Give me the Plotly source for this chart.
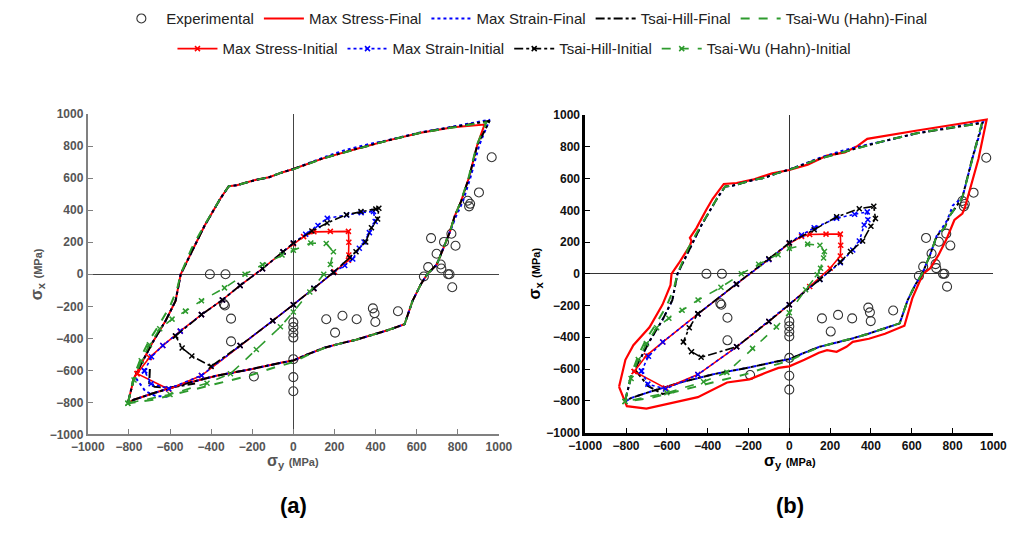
import plotly.graph_objects as go

# ---------------- experimental failure points (MPa) ----------------
exp_sy = [-406, -330, -338, -333, -303, -303, -192, 0, 0, 0, 0, 0, 0, 0,
          160, 203, 239, 308, 387, 395, 399, 509, 635, 656, 670, 697, 717, 720,
          733, 753, 760, 769, 773, 789, 848, 855, 860, 903, 965]
exp_sx = [0, 0, -186, -195, -277, -419, -638, -300, -330, -365, -395, -530, -642, -730,
          -281, -364, -259, -281, -213, -243, -298, -231, -14, 45, 226, 128, 61, 36,
          202, 0, 0, 253, -81, 178, 459, 424, 440, 511, 731]

# ---------------- panel (a): final failure envelopes ----------------
a_ms_f_x = [-805, -776, -745, -682, -620, -573, -548, -480, -432, -354, -314, -275, -181, -118, -55, 0,
            148, 305, 462, 619, 777, 930, 895, 855, 816, 785, 761, 730, 698, 651, 619, 580, 541,
            462, 384, 305, 226, 148, 69, 0, -55, -200, -369, -525, -682, -776, -805]
a_ms_f_y = [-805, -652, -571, -419, -287, -166, 0, 182, 303, 475, 550, 556, 590, 606, 636, 657,
            725, 782, 836, 884, 918, 935, 808, 606, 455, 364, 263, 162, 61, 0, -65, -166, -312,
            -348, -379, -409, -433, -460, -500, -538, -551, -591, -632, -682, -743, -783, -805]

a_mst_f_x = [-805, -776, -745, -682, -620, -573, -548, -480, -432, -354, -314, -275, -181, -118, -55, 0,
             148, 250, 352, 462, 619, 777, 955, 905, 862, 825, 792, 761, 730, 698, 651, 619, 580, 541,
             462, 384, 305, 226, 148, 69, 0, -55, -200, -369, -525, -682, -776, -805,
             None, -765, -720, -670, -600]
a_mst_f_y = [-805, -652, -571, -419, -287, -166, 0, 182, 303, 475, 550, 556, 590, 606, 636, 657,
             730, 775, 808, 838, 886, 922, 965, 808, 606, 455, 364, 263, 162, 61, 0, -65, -166, -312,
             -348, -379, -409, -433, -460, -500, -538, -551, -591, -632, -682, -743, -783, -805,
             None, -650, -730, -760, -765]

a_th_f_x = [-805, -776, -745, -682, -620, -573, -548, -480, -432, -354, -314, -275, -181, -118, -55, 0,
            148, 305, 462, 619, 777, 955, 895, 855, 816, 785, 761, 730, 698, 651, 619, 580, 541,
            462, 384, 305, 226, 148, 69, 0, -55, -200, -369, -525, -682, -776, -805,
            None, -698, -701, -675, -604, -478]
a_th_f_y = [-805, -652, -571, -419, -287, -166, 0, 182, 303, 475, 550, 556, 590, 606, 636, 657,
            725, 782, 836, 884, 918, 958, 808, 606, 455, 364, 263, 162, 61, 0, -65, -166, -312,
            -348, -379, -409, -433, -460, -500, -538, -551, -591, -632, -682, -743, -783, -805,
            None, -591, -682, -702, -708, -682]

a_tw_f_x = [-805, -785, -765, -735, -700, -655, -600, -565, -548, -495, -440, -354, -314, -275, -181,
            -118, -55, 0, 148, 305, 462, 619, 777, 940, 893, 853, 815, 785, 761, 730, 698, 651, 619,
            580, 541, 462, 384, 305, 226, 148, 69, 0, -100, -212, -369, -525, -682, -805]
a_tw_f_y = [-805, -690, -600, -500, -410, -320, -200, -90, 0, 162, 290, 475, 550, 556, 590,
            606, 636, 655, 725, 782, 836, 884, 918, 950, 808, 606, 455, 364, 263, 162, 61, 0, -65,
            -166, -312, -348, -379, -409, -433, -462, -505, -548, -585, -632, -682, -733, -783, -805]

# ---------------- panel (a): initial failure envelopes ----------------
a_ms_i_x = [-760, -700, -635, -550, -447, -345, -259, -150, -50, 0, 50, 100, 180, 268, 270, 270, 268,
            200, 100, 0, -100, -259, -447, -606, -760]
a_ms_i_y = [-620, -520, -445, -355, -252, -160, -70, 35, 140, 190, 235, 265, 268, 268, 200, 120, 88,
            15, -90, -190, -290, -445, -632, -718, -620]

a_mst_i_x = [-724, -690, -635, -550, -447, -345, -259, -150, -50, 0, 60, 120, 165, 260, 330, 390, 398,
             370, 344, 321, 289, 250, 195, 100, 0, -100, -259, -447, -606, -692, -724]
a_mst_i_y = [-603, -515, -445, -355, -252, -160, -70, 35, 140, 195, 250, 305, 350, 370, 385, 392, 330,
             260, 202, 162, 95, 55, 12, -88, -190, -290, -445, -632, -714, -683, -603]

a_th_i_x = [-573, -447, -345, -259, -150, -50, 0, 90, 164, 258, 329, 401, 416, 410, 380, 352, 305,
            274, 195, 100, 0, -100, -259, -400, -494, -541, -573]
a_th_i_y = [-385, -252, -160, -70, 35, 140, 195, 270, 320, 372, 392, 408, 412, 345, 290, 202, 141,
            105, 12, -88, -190, -290, -445, -575, -510, -460, -385]

a_tw_i_x = [-805, -775, -740, -700, -650, -590, -525, -447, -335, -235, -150, -55, 0, 85, 160, 195,
            180, 148, 80, 0, -63, -180, -306, -420, -600, -805]
a_tw_i_y = [-805, -660, -540, -440, -340, -280, -230, -165, -85, 0, 60, 120, 150, 195, 192, 141,
            61, 0, -110, -235, -328, -470, -621, -680, -750, -805]

# ---------------- panel (b): final failure envelopes ----------------
b_ms_f_x = [-834, -803, -764, -685, -621, -582, -577, -542, -487, -479, -487, -455, -408, -376, -321,
            -258, -179, -84, 0, 90, 185, 272, 335, 382, 627, 832, 967, 927, 888, 861, 848, 809, 770,
            730, 690, 655, 603, 564, 469, 390, 311, 280, 232, 185, 145, 74, 0, -53, -116, -195, -305,
            -400, -448, -700, -796, -834]
b_ms_f_y = [-712, -542, -450, -337, -194, -72, 0, 65, 177, 207, 227, 288, 400, 471, 566,
            572, 593, 633, 654, 688, 745, 765, 806, 850, 903, 944, 972, 725, 542, 420, 380, 339, 217,
            116, 35, 0, -153, -327, -378, -409, -429, -460, -491, -481, -497, -542, -583, -593, -624,
            -665, -685, -746, -777, -849, -834, -712]

b_mst_f_x = [-805, -776, -745, -682, -620, -573, -548, -480, -432, -354, -314, -275, -181, -118, -55, 0,
             148, 250, 352, 462, 619, 777, 950, 900, 848, 801, 775, 750, 722, 690, 651, 619, 580, 541,
             462, 384, 305, 226, 148, 69, 0, -55, -200, -369, -525, -682, -776, -805]
b_mst_f_y = [-805, -652, -571, -419, -287, -166, 0, 182, 303, 475, 550, 556, 590, 606, 636, 657,
             730, 772, 805, 835, 884, 920, 955, 740, 481, 430, 340, 290, 238, 120, 0, -65, -166, -312,
             -348, -379, -409, -433, -460, -500, -538, -551, -591, -632, -682, -743, -783, -805]

b_th_f_x = [-805, -776, -745, -682, -620, -573, -548, -480, -432, -354, -314, -275, -181, -118, -55, 0,
            148, 305, 462, 619, 777, 945, 896, 848, 816, 785, 761, 722, 690, 651, 619, 580, 541,
            462, 384, 305, 226, 148, 69, 0, -55, -200, -369, -525, -682, -776, -805,
            None, -756, -693, -621, -560]
b_th_f_y = [-805, -652, -571, -419, -287, -166, 0, 182, 303, 475, 550, 556, 590, 606, 636, 657,
            725, 782, 836, 884, 918, 950, 725, 481, 420, 364, 290, 238, 120, 0, -65, -166, -312,
            -348, -379, -409, -433, -460, -500, -538, -551, -591, -632, -682, -743, -783, -805,
            None, -603, -706, -757, -745]

b_tw_f_x = [-805, -785, -765, -735, -700, -655, -600, -565, -548, -495, -440, -354, -314, -275, -181,
            -118, -55, 0, 148, 305, 462, 619, 777, 943, 896, 848, 816, 785, 761, 722, 690, 651, 619,
            580, 541, 462, 384, 305, 226, 148, 69, 0, -100, -212, -369, -525, -682, -805]
b_tw_f_y = [-805, -690, -600, -500, -410, -320, -200, -90, 0, 162, 290, 475, 550, 556, 590,
            606, 636, 655, 725, 782, 836, 884, 918, 948, 725, 481, 420, 364, 290, 238, 120, 0, -65,
            -166, -312, -348, -379, -409, -433, -462, -505, -548, -585, -632, -682, -733, -783, -805]

# ---------------- panel (b): initial failure envelopes ----------------
b_ms_i_x = [-760, -700, -620, -447, -259, -100, 0, 60, 100, 180, 250, 252, 250, 200, 100, 0, -100,
            -258, -448, -606, -760]
b_ms_i_y = [-615, -515, -430, -252, -65, 90, 190, 235, 248, 250, 250, 180, 112, 35, -80, -195, -300,
            -460, -635, -720, -615]

b_mst_i_x = [-724, -690, -620, -447, -259, -100, 0, 60, 122, 232, 320, 382, 385, 367, 343, 311, 250,
             150, 0, -100, -258, -448, -606, -693, -724]
b_mst_i_y = [-613, -520, -430, -252, -65, 90, 195, 245, 290, 350, 375, 390, 340, 308, 207, 150, 70,
             -35, -195, -300, -460, -635, -726, -695, -613]

b_th_i_x = [-448, -259, -100, 0, 122, 232, 343, 414, 422, 400, 359, 300, 250, 150, 0, -100, -258,
            -432, -479, -519, -490, -448]
b_th_i_y = [-252, -65, 95, 195, 278, 359, 410, 425, 349, 300, 207, 140, 75, -35, -195, -300, -460,
            -526, -491, -429, -340, -252]

b_tw_i_x = [-805, -775, -740, -700, -650, -590, -525, -447, -335, -235, -150, -55, 0, 90, 150, 172,
            168, 153, 137, 80, 0, -63, -180, -306, -420, -600, -805]
b_tw_i_y = [-805, -660, -540, -440, -340, -280, -230, -165, -85, 0, 60, 120, 160, 187, 180, 140,
            100, 35, -6, -100, -245, -335, -470, -621, -680, -750, -805]

tick_vals = [-1000, -800, -600, -400, -200, 0, 200, 400, 600, 800, 1000]

RED, BLUE, BLACK, GREEN = "#ff0000", "#0000ff", "#000000", "#2e9b2e"

series = [
    # name, colour, dash, legend group, final envelope?
    ("Max Stress-Final", RED, "solid", "legend", True),
    ("Max Strain-Final", BLUE, "dot", "legend", True),
    ("Tsai-Hill-Final", BLACK, "dashdot", "legend", True),
    ("Tsai-Wu (Hahn)-Final", GREEN, "dash", "legend", True),
    ("Max Stress-Initial", RED, "solid", "legend2", False),
    ("Max Strain-Initial", BLUE, "dot", "legend2", False),
    ("Tsai-Hill-Initial", BLACK, "dashdot", "legend2", False),
    ("Tsai-Wu (Hahn)-Initial", GREEN, "dash", "legend2", False),
]

panel_data = {
    "a": [(a_ms_f_x, a_ms_f_y), (a_mst_f_x, a_mst_f_y), (a_th_f_x, a_th_f_y), (a_tw_f_x, a_tw_f_y),
          (a_ms_i_x, a_ms_i_y), (a_mst_i_x, a_mst_i_y), (a_th_i_x, a_th_i_y), (a_tw_i_x, a_tw_i_y)],
    "b": [(b_ms_f_x, b_ms_f_y), (b_mst_f_x, b_mst_f_y), (b_th_f_x, b_th_f_y), (b_tw_f_x, b_tw_f_y),
          (b_ms_i_x, b_ms_i_y), (b_mst_i_x, b_mst_i_y), (b_th_i_x, b_th_i_y), (b_tw_i_x, b_tw_i_y)],
}

fig = go.Figure()

for panel, (xa, ya) in (("a", ("x", "y")), ("b", ("x2", "y2"))):
    show = panel == "a"
    fig.add_trace(go.Scatter(
        x=exp_sy, y=exp_sx, mode="markers", name="Experimental", xaxis=xa, yaxis=ya,
        marker=dict(symbol="circle-open", size=9, color="#333333", line=dict(width=1.1)),
        showlegend=show, legend="legend", legendrank=0))
    # solid red first, broken lines over it so every colour shows through
    for k in range(8):
        name, col, dash, leg, final = series[k]
        x, y = panel_data[panel][k]
        lw = 2.0 if final else 1.6
        if panel == "b" and k == 0:
            lw = 2.2
        if final:
            fig.add_trace(go.Scatter(
                x=x, y=y, mode="lines", name=name, xaxis=xa, yaxis=ya,
                line=dict(color=col, width=lw, dash=dash),
                showlegend=show, legend=leg, legendrank=k + 1))
        else:
            fig.add_trace(go.Scatter(
                x=x, y=y, mode="lines+markers", name=name, xaxis=xa, yaxis=ya,
                line=dict(color=col, width=lw, dash=dash),
                marker=dict(symbol="x-thin", size=5, color=col, line=dict(width=1.5, color=col)),
                showlegend=show, legend=leg, legendrank=k + 1))

W, H = 1020, 533


def px_to_dom_x(a, b):
    return [a / W, b / W]


def px_to_dom_y(top, bottom):
    return [1 - bottom / H, 1 - top / H]


def axis_style(color, linecol, lw, fontcol):
    return dict(range=[-1000, 1000], tickvals=tick_vals, ticks="inside", ticklen=5, tickwidth=1,
                tickcolor=linecol, showline=True, linecolor=linecol, linewidth=lw, mirror=False,
                showgrid=False, zeroline=True, zerolinecolor=color, zerolinewidth=1.2,
                tickfont=dict(family="Arial, Liberation Sans", size=12, color=fontcol, weight="bold"),
                fixedrange=True)


legend_font = dict(family="Arial, Liberation Sans", size=15, color="#222222")
fig.update_layout(
    width=W, height=H, margin=dict(l=0, r=0, t=0, b=0),
    paper_bgcolor="white", plot_bgcolor="white",
    xaxis=dict(domain=px_to_dom_x(73, 497), anchor="y", **axis_style("#444444", "#808080", 2, "#555555")),
    yaxis=dict(domain=px_to_dom_y(110, 439), anchor="x", **axis_style("#444444", "#808080", 2, "#555555")),
    xaxis2=dict(domain=px_to_dom_x(586, 1007), anchor="y2", **axis_style("#333333", "#000000", 2.5, "#111111")),
    yaxis2=dict(domain=px_to_dom_y(111, 437), anchor="x2", **axis_style("#333333", "#000000", 2.5, "#111111")),
    legend=dict(orientation="h", x=0.513, xanchor="center", y=1 - 12 / H, yanchor="middle",
                font=legend_font, bgcolor="rgba(0,0,0,0)", itemwidth=40, traceorder="normal"),
    legend2=dict(orientation="h", x=0.503, xanchor="center", y=1 - 43 / H, yanchor="middle",
                 font=legend_font, bgcolor="rgba(0,0,0,0)", itemwidth=40, traceorder="normal"),
    showlegend=True,
)

title_font_a = dict(family="Arial, Liberation Sans", size=16, color="#555555", weight="bold")
title_font_b = dict(family="Arial, Liberation Sans", size=16, color="#000000", weight="bold")
annots = [
    dict(x=285 / W, y=1 - 467 / H, text="σ<sub>y</sub> <span style='font-size:11px'>(MPa)</span>",
         font=title_font_a),
    dict(x=797 / W, y=1 - 467 / H, text="σ<sub>y</sub> <span style='font-size:11px'>(MPa)</span>",
         font=title_font_b),
    dict(x=21 / W, y=1 - 274 / H, text="σ<sub>x</sub> <span style='font-size:11px'>(MPa)</span>",
         textangle=-90, font=title_font_a),
    dict(x=535 / W, y=1 - 274 / H, text="σ<sub>x</sub> <span style='font-size:11px'>(MPa)</span>",
         textangle=-90, font=title_font_b),
    dict(x=285 / W, y=1 - 512 / H, text="(a)",
         font=dict(family="Arial, Liberation Sans", size=22, color="#000000", weight="bold")),
    dict(x=797 / W, y=1 - 512 / H, text="(b)",
         font=dict(family="Arial, Liberation Sans", size=22, color="#000000", weight="bold")),
]
for a in annots:
    fig.add_annotation(xref="paper", yref="paper", showarrow=False, xanchor="center", yanchor="middle", **a)

fig.write_html("out.html")
